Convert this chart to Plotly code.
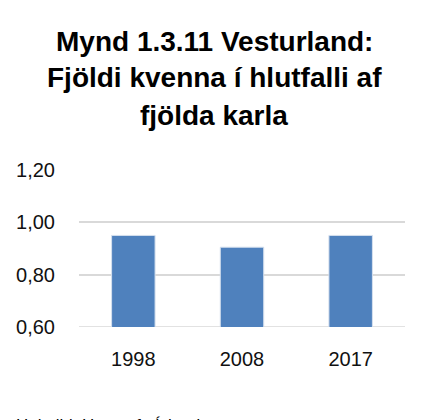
import plotly.graph_objects as go

years = ["1998", "2008", "2017"]
ratio = [0.95, 0.905, 0.95]
y_ticks = [0.60, 0.80, 1.00, 1.20]
y_tick_labels = ["0,60", "0,80", "1,00", "1,20"]
title_lines = ["Mynd 1.3.11 Vesturland:", "Fjöldi kvenna í hlutfalli af", "fjölda karla"]
source_text = "Heimild: Hagstofa Íslands"

W, H = 430, 420
OFF = 8  # page body margin offset
L, T = 79 - OFF, 170 - OFF
R = W - (405 - OFF)
B = H - (327 - OFF)
plot_h = H - T - B
plot_w = W - L - R

def py(pix):
    return (H - B - (pix - OFF)) / plot_h

def px(pix):
    return ((pix - OFF) - L) / plot_w

fig = go.Figure(go.Bar(
    x=years, y=ratio,
    marker=dict(color="#4F81BD", line=dict(color="#D6E0EE", width=1)),
    width=0.4,
))

font = "Liberation Sans"
ann = []
for i, line in enumerate(title_lines):
    ann.append(dict(text="<b>" + line + "</b>", x=px(214), xref="paper", xanchor="center",
                    y=py([41, 78, 115][i]), yref="paper", yanchor="middle",
                    showarrow=False, font=dict(family=font, size=28, color="#000000")))
ann.append(dict(text=source_text, x=px(14), xref="paper", xanchor="left",
                y=py(413.5), yref="paper", yanchor="top", showarrow=False,
                font=dict(family=font, size=17, color="#000000")))

fig.update_layout(
    width=W, height=H,
    margin=dict(l=L, r=R, t=T, b=B, pad=0, autoexpand=False),
    paper_bgcolor="white", plot_bgcolor="white",
    showlegend=False,
    annotations=ann,
    font=dict(family=font, size=20, color="#111111"),
    xaxis=dict(showgrid=False, showline=False, ticks="", ticklabelstandoff=18,
               automargin=False, tickfont=dict(size=20)),
    yaxis=dict(range=[0.6, 1.2], tickvals=y_ticks, ticktext=y_tick_labels,
               showgrid=True, gridcolor="#D9D9D9", gridwidth=1.5, zeroline=False,
               showline=False, ticks="outside", ticklen=19, automargin=False,
               tickcolor="rgba(0,0,0,0)", tickfont=dict(size=20)),
)
fig.add_shape(type="line", xref="paper", yref="y", x0=0, x1=1, y0=0.6, y1=0.6,
              line=dict(color="#D9D9D9", width=1.5), layer="below")

fig.write_html("out.html")
